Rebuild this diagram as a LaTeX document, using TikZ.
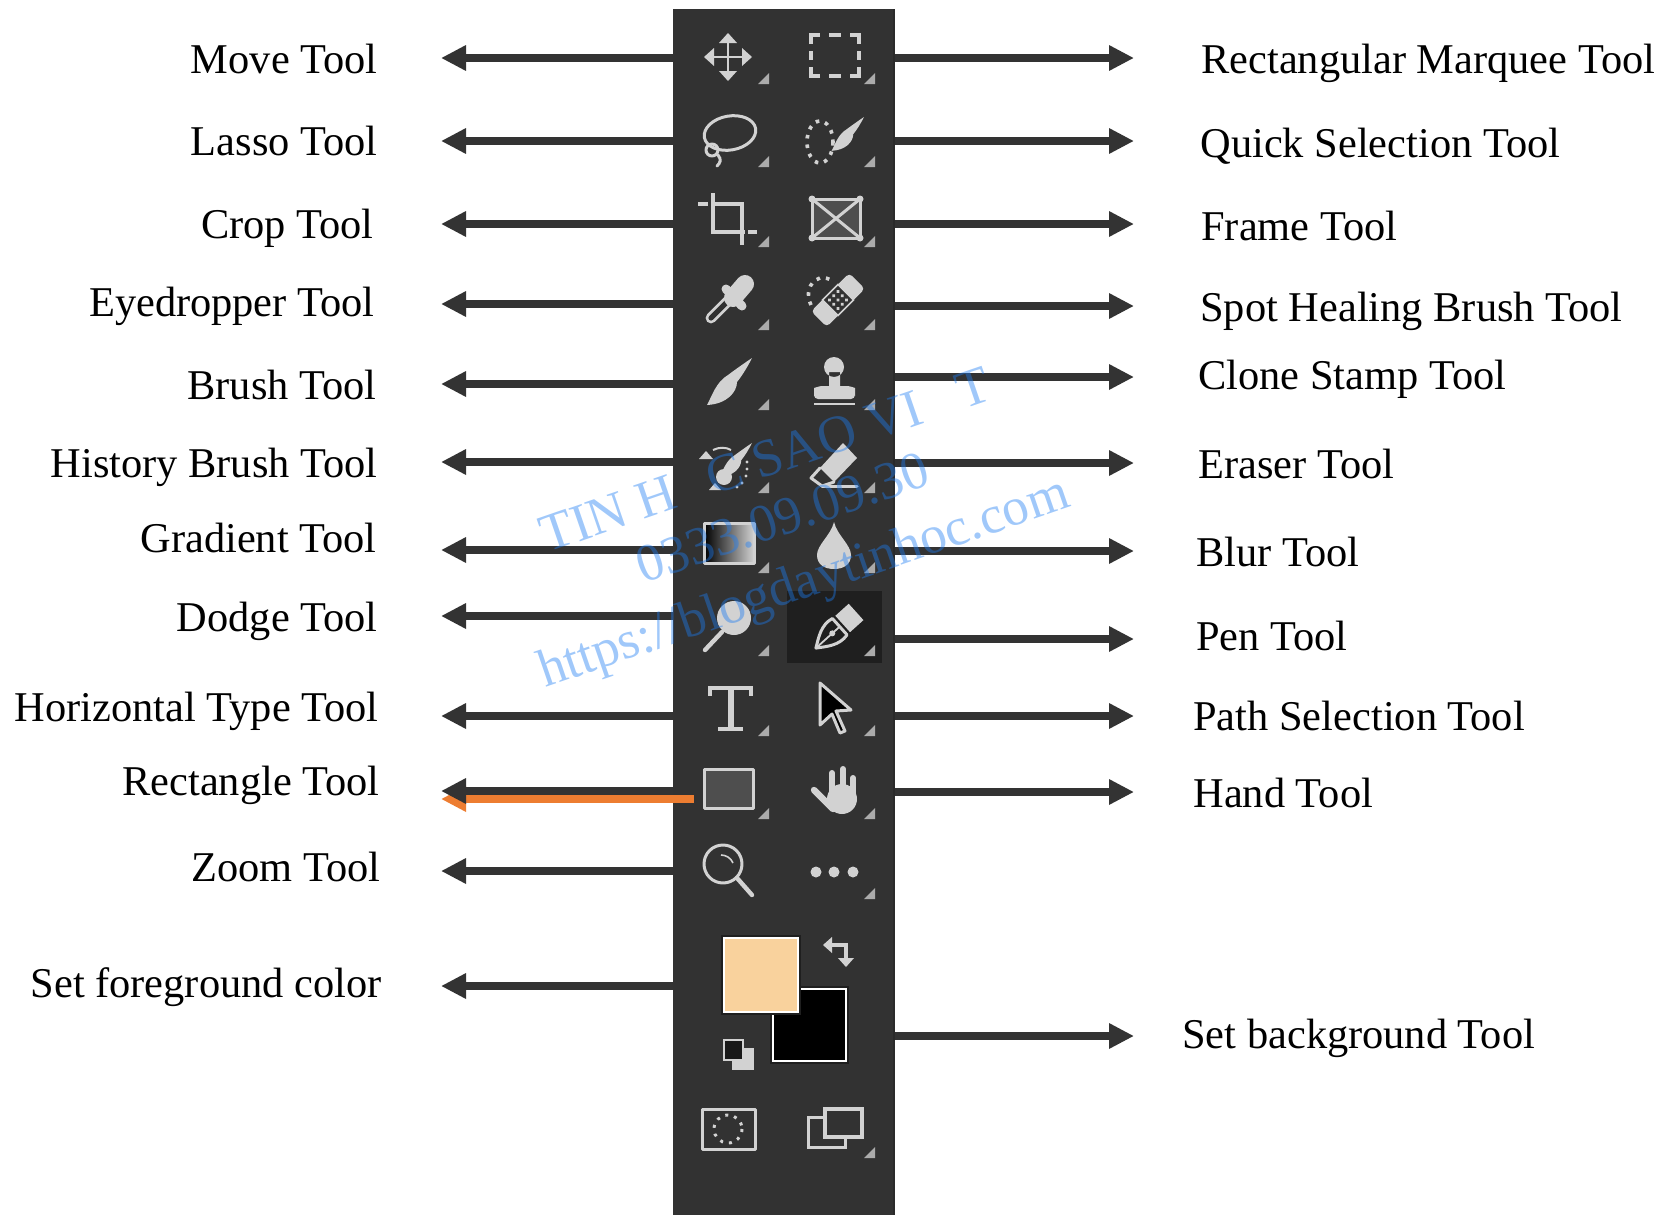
\documentclass[tikz,border=0pt]{standalone}
\usepackage{fontspec}
\setmainfont{Liberation Serif}
\usetikzlibrary{arrows.meta}
\definecolor{panelc}{HTML}{323232}
\definecolor{stripc}{HTML}{2A2A2A}
\definecolor{arrowc}{HTML}{333333}
\definecolor{iconc}{HTML}{D2D2D2}
\definecolor{cornerc}{HTML}{ABABAB}
\definecolor{orangec}{HTML}{ED7D31}
\definecolor{fgc}{HTML}{F9D29D}
\definecolor{wmc}{RGB}{28,124,243}
\definecolor{selc}{HTML}{1F1F1F}
\definecolor{greyc}{HTML}{4E4E4E}
\newcommand{\brushshape}{(0,0) .. controls (-4,8) and (-10,18) .. (-15,24) .. controls (-15,34) and (-25,46) .. (-45,47) .. controls (-40,38) and (-36,24) .. (-24,17) .. controls (-16,11) and (-6,4) .. (0,0) -- cycle}
\tikzset{
  panelbox/.style={fill=panelc,draw=none,inner sep=0pt,minimum width=111pt,minimum height=603pt},
  toolarrow/.style={draw=arrowc,line width=4pt,-{Triangle[length=12.5pt,width=12pt,fill=arrowc]}},
  orangearrow/.style={draw=orangec,line width=4pt,-{Triangle[length=12.5pt,width=12pt,fill=orangec]}},
  leftlabel/.style={anchor=base east,inner sep=0pt,font=\fontsize{21.2}{25}\selectfont,text=black},
  rightlabel/.style={anchor=base west,inner sep=0pt,font=\fontsize{21.2}{25}\selectfont,text=black},
  icon/.style={draw=iconc,line width=1.5pt,line cap=round,line join=round},
  watermark/.style={anchor=base west,inner sep=0pt,rotate=19,text=wmc,text opacity=.42,font=\fontsize{26.6}{32}\selectfont},
}
\begin{document}
\begin{tikzpicture}[x=.5pt,y=-.5pt]
\useasboundingbox (0,0) rectangle (1662,1215);
\node[panelbox] (panel) at (784,612) {};
\fill[stripc] (892.5,9) rectangle (895,1215);
% orange arrow sits under the dark one
\coordinate (orangeTip) at (441,799);
\coordinate (orangeStart) at (694,799);
\draw[orangearrow] (orangeStart) -- (orangeTip);
% left labels and arrows
\foreach \i/\lx/\ly/\ay/\t in {
 1/378/73/58/Move Tool,
 2/378/155/141/Lasso Tool,
 3/374/238/224/Crop Tool,
 4/375/316/304/Eyedropper Tool,
 5/377/399/384/Brush Tool,
 6/378/477/462/History Brush Tool,
 7/377/552/550/Gradient Tool,
 8/378/631/616/Dodge Tool,
 9/379/721/716/Horizontal Type Tool,
 10/380/795/791/Rectangle Tool,
 11/381/881/871/Zoom Tool,
 12/382/997/986/Set foreground color}{
  \node[leftlabel] (L\i) at (\lx,\ly) {\t};
  \coordinate (LT\i) at (441,\ay);
  \draw[toolarrow] (panel.west |- LT\i) -- (LT\i);
}
% right labels and arrows
\foreach \i/\lx/\ly/\ay/\t in {
 1/1201/73/58/Rectangular Marquee Tool,
 2/1200/157/141/Quick Selection Tool,
 3/1201/240/224/Frame Tool,
 4/1200/321/306/Spot Healing Brush Tool,
 5/1198/389/377/Clone Stamp Tool,
 6/1198/478/463/Eraser Tool,
 7/1196/566/551/Blur Tool,
 8/1196/650/639/Pen Tool,
 9/1193/730/716/Path Selection Tool,
 10/1193/807/792/Hand Tool,
 11/1182/1048/1036/Set background Tool}{
  \node[rightlabel] (R\i) at (\lx,\ly) {\t};
  \coordinate (RT\i) at (1134,\ay);
  \draw[toolarrow] (panel.east |- RT\i) -- (RT\i);
}
% selected tool
\fill[selc] (787,591) rectangle (882,663);
% corner triangles
\foreach \x/\y in {758/84,864/84,758/167,864/167,758/247,864/247,758/330,864/330,758/410,864/410,758/493,864/493,758/573,864/573,758/656,864/656,758/736,864/736,758/819,864/819,864/899,864/1158}
  \fill[cornerc] (\x,\y) -- ({\x+11},\y) -- ({\x+11},{\y-11}) -- cycle;
% move
\draw[iconc,line width=1.3pt] (728,40) -- (728,74) (711,57) -- (745,57);
\fill[iconc] (728,33) -- (737,43) -- (719,43) -- cycle (728,81) -- (737,71) -- (719,71) -- cycle
  (704,57) -- (714,48) -- (714,66) -- cycle (752,57) -- (742,48) -- (742,66) -- cycle;
% marquee
\draw[iconc,line width=1.7pt,line cap=butt] (811,44) -- (811,35) -- (820,35) (829,35) -- (841,35) (850,35) -- (859,35) -- (859,44)
  (859,51) -- (859,60) (859,67) -- (859,76) -- (850,76) (841,76) -- (829,76) (820,76) -- (811,76) -- (811,67) (811,60) -- (811,51);
% lasso
\draw[icon] (730,133) ellipse [x radius=26,y radius=17,rotate=10];
\draw[icon] (712,150) circle (6) (718,155) .. controls (722,160) and (720,163) .. (717,166);
% quick selection
\draw[iconc,line width=1.8pt,dash pattern=on 1.8pt off 3pt,line cap=butt] (820,142) ellipse [x radius=13,y radius=21];
\begin{scope}[shift={(864,117)},scale=.72]
\fill[panelc] (-40,48) rectangle (-10,20);
\fill[iconc] \brushshape;
\end{scope}
% crop
\draw[iconc,line width=1.8pt] (698,204) -- (708,204) (713,193) -- (713,232) -- (745,232) (713,204) -- (742,204) -- (742,245) (748,232) -- (757,232);
% frame
\draw[icon,fill=greyc] (812,199) rectangle (860,238);
\draw[icon] (812,199) -- (860,238) (860,199) -- (812,238);
\fill[iconc] (812,199) circle (3.5) (860,199) circle (3.5) (812,238) circle (3.5) (860,238) circle (3.5);
% eyedropper
\draw[iconc,line width=5.4pt,line cap=round] (711,318) -- (730,299);
\draw[panelc,line width=2.6pt,line cap=round] (711,318) -- (730,299);
\draw[iconc,line width=4.5pt,line cap=round] (726,289) -- (742,306);
\draw[iconc,line width=9pt,line cap=round] (733,298) -- (745,284);
% spot healing
\draw[iconc,line width=1.8pt,dash pattern=on 1.8pt off 3pt,line cap=butt] (811,305) .. controls (806,295) and (808,282) .. (820,278) .. controls (825,277) and (830,279) .. (834,282);
\begin{scope}[shift={(838,300)},rotate=45]
\fill[iconc,rounded corners=2pt] (-27,-11) rectangle (27,11);
\fill[panelc] (-11,-11) rectangle (11,11);
\draw[iconc,line width=.8pt] (-11,-11) rectangle (11,11);
\foreach \a in {-6,0,6} \foreach \b in {-6,0,6} \fill[iconc] (\a,\b) circle (1.9);
\end{scope}
% brush
\begin{scope}[shift={(752,358)}]
\fill[iconc] \brushshape;
\end{scope}
% stamp
\fill[iconc] (834,367) circle (10) (829,372) rectangle (840,390);
\fill[iconc,rounded corners=2pt] (814,399) -- (814,392) .. controls (814,388) and (820,386) .. (826,386) -- (843,386) .. controls (850,386) and (855,388) .. (855,392) -- (855,399) -- cycle;
\draw[iconc,line width=1pt] (814,403.5) -- (855,403.5);
% history brush
\begin{scope}[shift={(752,443)},scale=.72]
\fill[iconc] \brushshape;
\end{scope}
\fill[iconc] (724,477) circle (8);
\fill[iconc] (699,459) -- (713,459) -- (706,451) -- cycle (709,490) -- (721,490) -- (715,483) -- cycle;
\draw[iconc,line width=1pt] (713,450) .. controls (719,447) and (726,447) .. (731,450);
\fill[iconc] (747,462) circle (1.6) (747,469) circle (1.6) (746,476) circle (1.6) (742,483) circle (1.6) (737,487) circle (1.6);
% eraser
\fill[iconc,line join=round] (843,443) -- (857,458) -- (834,482) -- (820,468) -- cycle;
\draw[icon] (820,468) -- (811,478) -- (822,486) -- (834,482);
\draw[icon] (822,486) -- (857,486);
% gradient
\shade[left color=black,right color=iconc] (704,523) rectangle (754,563);
\draw[icon] (704,523) rectangle (754,563);
% blur
\fill[iconc] (834,522) .. controls (837,535) and (851,545) .. (851,555) .. controls (851,565) and (843,569) .. (834,569) .. controls (825,569) and (817,565) .. (817,555) .. controls (817,545) and (831,535) .. (834,522) -- cycle;
% dodge
\fill[iconc] (734,618) circle (17);
\draw[iconc,line width=2.2pt,line cap=round] (722,632) -- (705,650);
% pen
\begin{scope}[shift={(836,630)},rotate=42]
\draw[icon] (-27,0) .. controls (-18,-6) and (-8,-14) .. (5,-11) -- (5,11) .. controls (-8,14) and (-18,6) .. (-27,0) -- cycle;
\fill[iconc] (9,-11) rectangle (27,11);
\fill[iconc] (-5,0) circle (3);
\draw[iconc,line width=.9pt] (-27,0) -- (-7,0) (-3,0) -- (5,0);
\end{scope}
% type
\draw[iconc,line width=2.2pt,line join=miter] (710,696) -- (710,688) -- (751,688) -- (751,696);
\draw[iconc,line width=3pt] (730.5,688) -- (730.5,728);
\draw[iconc,line width=1.8pt] (718,729) -- (743,729);
% path selection
\draw[icon,fill=black] (820,683) -- (851,710) -- (836,711) -- (845,731) -- (840,733) -- (832,714) -- (820,725) -- cycle;
% rectangle
\draw[icon,fill=greyc] (704,769) rectangle (753,808);
% hand
\foreach \a/\b in {832/773,843/769,853/778}
  \draw[iconc,line width=3pt,line cap=round] (\a,\b) -- (\a,800);
\fill[iconc] (842,799) ellipse [x radius=15,y radius=15];
\draw[iconc,line width=3.2pt,line cap=round] (814,790) -- (833,809);
% zoom
\draw[icon] (723,864) circle (19);
\draw[iconc,line width=2.2pt,line cap=round] (737,878) -- (752,895);
\draw[iconc,line width=.8pt] (721,855) .. controls (726,855) and (731,858) .. (733,863);
% dots
\fill[iconc] (816,872) circle (5.5) (834,872) circle (5.5) (853,872) circle (5.5);
% swatches
\draw[white,line width=1pt,fill=black] (773,989) rectangle (846,1061);
\draw[selc,line width=.6pt] (771,987) rectangle (848,1063);
\draw[selc,line width=.6pt] (722,936) rectangle (800,1014);
\draw[white,line width=1pt,fill=fgc] (724,938) rectangle (798,1012);
% swap
\draw[iconc,line width=1.8pt] (830,945) -- (846,945) -- (846,960);
\fill[iconc] (823,945) -- (832,937) -- (832,953) -- cycle (846,967) -- (838,958) -- (854,958) -- cycle;
% default colours
\fill[iconc] (732,1048) rectangle (754,1070);
\draw[iconc,line width=1.3pt,fill=black!90] (724,1040) rectangle (743,1060);
% quick mask
\draw[icon] (702,1109) rectangle (755,1149);
\draw[iconc,line width=1.5pt,dash pattern=on 1.5pt off 3pt,line cap=butt] (728,1129) circle (14);
% screen mode
\draw[iconc,line width=1.5pt] (808,1117) rectangle (845,1147);
\draw[iconc,line width=1.8pt,fill=panelc] (825,1109) rectangle (862,1137);
% watermark
\node[watermark] (wm1) at (547,553) {TIN H\hspace{.67em}C SAO VI\hspace{.75em}T};
\node[watermark] (wm2) at (643,584) {0333.09.09.30};
\node[watermark] (wm3) at (545,688) {https://blogdaytinhoc.com};
\end{tikzpicture}
\end{document}
